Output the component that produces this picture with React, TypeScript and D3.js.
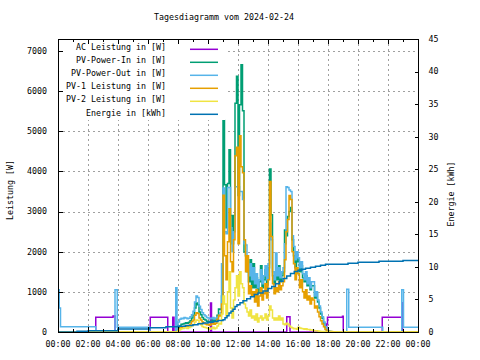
import React from "react";
import * as d3 from "d3";

// gnuplot-like day chart, 480x360
const width = 480;
const height = 360;
const plot = { left: 58, right: 418, top: 39, bottom: 332 };

const title = "Tagesdiagramm vom 2024-02-24";
const timeTickLabels = ["00:00", "02:00", "04:00", "06:00", "08:00", "10:00", "12:00", "14:00", "16:00", "18:00", "20:00", "22:00", "00:00"];
const powerTicks = [0, 1000, 2000, 3000, 4000, 5000, 6000, 7000];
const energyTicks = [0, 5, 10, 15, 20, 25, 30, 35, 40, 45];

const seriesNames = [
  "AC Leistung in [W]",
  "PV-Power-In in [W]",
  "PV-Power-Out in [W]",
  "PV-1 Leistung in [W]",
  "PV-2 Leistung in [W]",
  "Energie in [kWh]",
];
const seriesColors = ["#9400d3", "#009e73", "#56b4e9", "#e69f00", "#f0e442", "#0072b2"];

// AC Leistung (W), step points
const acSteps: [string, number][] = [
  ["00:00", 0], ["02:31", 365], ["03:40", 400], ["03:48", 0], ["06:09", 365], ["07:19", 0],
  ["07:39", 365], ["07:44", 0], ["10:10", 720], ["10:14", 0],
  ["15:15", 380], ["15:28", 0], ["17:55", 200], ["17:58", 365], ["18:58", 390],
  ["19:01", 0], ["21:37", 365], ["22:55", 730], ["22:58", 0], ["24:00", 0],
];

// PV-Power-Out outside the daytime block
const powerOutNight: [string, number][] = [
  ["00:00", 1050], ["00:05", 600], ["00:10", 130], ["02:31", 0], ["03:48", 1050], ["03:57", 120],
  ["06:08", 0], ["07:51", 1100], ["07:56", 0],
];
const powerOutEvening: [string, number][] = [
  ["19:15", 1065], ["19:23", 117], ["21:39", 0], ["22:55", 1050], ["23:02", 117], ["24:00", 117],
];

// daytime samples, every 6 minutes from 08:00 to 18:30
const dayStart = "08:00";
const dayStepMin = 6;

const dayPowerIn = [
  80, 150, 190, 200, 210, 230, 220, 240, 280, 350,
  420, 600, 720, 680, 500, 430, 360, 320, 300, 270,
  260, 240, 270, 300, 260, 300, 420, 570, 560, 900,
  5270, 3670, 2600, 3700, 4540, 2900, 2200, 2900, 5700, 6370,
  3400, 5660, 6660, 5510, 2000, 1900, 1500, 1250, 1800, 1100,
  1700, 1100, 1350, 1000, 1250, 1650, 1100, 1300, 1550, 1200,
  1600, 4060, 2920, 1400, 1200, 1500, 1300, 1650, 1250, 1400,
  1500, 2540, 2400, 2880, 3000, 3100, 2300, 1900, 1600, 1850,
  1750, 1500, 1650, 1350, 1250, 1400, 1150, 1250, 1050, 1150,
  1150, 850, 950, 750, 600, 450, 340, 220, 110, 40,
  20, 10, 0, 0, 0, 0,
];
const dayPowerOut = [
  250, 320, 340, 330, 360, 350, 330, 340, 380, 430,
  520, 750, 900, 860, 640, 560, 480, 430, 400, 360,
  350, 330, 340, 360, 330, 350, 370, 420, 480, 1700,
  3590, 2500, 2450, 3600, 3600, 2600, 2000, 2500, 3620, 3620,
  3620, 3500, 3500, 3300, 2200, 2170, 1670, 1400, 1700, 1300,
  1600, 1200, 1450, 1100, 1300, 1550, 1200, 1400, 1650, 1300,
  1700, 2710, 2300, 1500, 1300, 1970, 1400, 1600, 1350, 1500,
  1600, 2200, 3620, 3600, 3540, 3500, 2400, 2130, 1800, 2000,
  1850, 1600, 1750, 1450, 1300, 1500, 1200, 1350, 1100, 1250,
  1250, 900, 1000, 800, 650, 500, 380, 250, 130, 50,
  20, 0, 0, 0, 0, 0,
];
const dayPv1 = [
  40, 90, 120, 130, 140, 150, 140, 160, 200, 260,
  300, 420, 480, 460, 350, 300, 250, 220, 200, 180,
  190, 170, 200, 230, 190, 220, 320, 420, 400, 700,
  3410, 1900, 1300, 2250, 3070, 1750, 1500, 2300, 4390, 4600,
  2200, 4890, 4120, 3970, 2300, 1500, 1900, 950, 1150, 900,
  1000, 750, 1050, 650, 900, 1100, 800, 950, 1200, 850,
  1300, 3750, 2380, 1200, 950, 1100, 1000, 1250, 1050, 1150,
  1250, 1800, 2500, 2800, 3400, 3300, 2000, 1700, 1300, 1600,
  1450, 1100, 1300, 1000, 850, 1050, 800, 900, 700, 850,
  800, 600, 650, 500, 380, 280, 200, 130, 60, 20,
  15, 12, 10, 8, 5, 0,
];
const dayPv2 = [
  30, 60, 80, 90, 100, 100, 90, 110, 130, 160,
  180, 250, 300, 290, 220, 180, 140, 120, 110, 100,
  90, 70, 100, 120, 80, 100, 150, 220, 200, 450,
  900, 700, 400, 1000, 1500, 600, 350, 800, 1100, 1400,
  900, 1500, 1200, 1100, 700, 600, 500, 400, 550, 350,
  400, 300, 450, 250, 350, 400, 300, 350, 450, 300,
  400, 650, 550, 350, 300, 350, 300, 400, 300, 350,
  200, 180, 220, 200, 150, 120, 100, 80, 90, 70,
  120, 100, 90, 80, 70, 80, 60, 60, 50, 50,
  40, 30, 30, 25, 20, 15, 10, 5, 0, 0,
  0, 0, 0, 0, 0, 0,
];

// Energie (kWh), step points
const energySteps: [string, number][] = [
  ["00:00", 0], ["01:16", 0.1], ["02:01", 0.2], ["03:59", 0.45], ["06:05", 0.65], ["07:12", 0.8],
  ["08:00", 0.9], ["08:30", 1.0], ["09:00", 1.1], ["09:20", 1.25], ["09:40", 1.4], ["10:00", 1.5],
  ["10:20", 1.6], ["10:40", 1.75], ["11:00", 1.9], ["11:08", 2.2], ["11:16", 2.5], ["11:24", 2.9],
  ["11:32", 3.2], ["11:40", 3.5], ["11:48", 3.9], ["11:56", 4.2], ["12:08", 4.5], ["12:20", 4.8],
  ["12:35", 5.1], ["12:50", 5.4], ["13:05", 5.75], ["13:20", 6.0], ["13:40", 6.3], ["14:00", 6.7],
  ["14:15", 7.0], ["14:30", 7.4], ["14:45", 7.8], ["15:00", 8.2], ["15:15", 8.6], ["15:30", 9.0],
  ["15:45", 9.3], ["16:00", 9.5], ["16:15", 9.65], ["16:30", 9.8], ["16:50", 9.95], ["17:10", 10.1],
  ["17:30", 10.25], ["17:50", 10.4], ["19:20", 10.55], ["20:00", 10.7], ["21:24", 10.85],
  ["23:00", 11.0], ["24:00", 11.0],
];

const toMin = (s: string) => {
  const [h, m] = s.split(":").map(Number);
  return h * 60 + m;
};

const dayPoints = (vals: number[]): [number, number][] =>
  vals.map((v, i) => [toMin(dayStart) + i * dayStepMin, v]);

const stepPoints = (steps: [string, number][]): [number, number][] =>
  steps.map(([t, v]) => [toMin(t), v]);

const FONT = "'DejaVu Sans Mono', monospace";

export default function App() {
  const x = d3.scaleLinear().domain([0, 1440]).range([plot.left, plot.right]);
  const yL = d3.scaleLinear().domain([0, 7300]).range([plot.bottom, plot.top]);
  const yR = d3.scaleLinear().domain([0, 45]).range([plot.bottom, plot.top]);

  const lineL = d3
    .line<[number, number]>()
    .x((d) => x(d[0]))
    .y((d) => yL(d[1]))
    .curve(d3.curveStepAfter);
  const lineR = d3
    .line<[number, number]>()
    .x((d) => x(d[0]))
    .y((d) => yR(d[1]))
    .curve(d3.curveStepAfter);

  const series = [
    lineL(stepPoints(acSteps)),
    lineL([[0, 0], ...dayPoints(dayPowerIn), [1440, 0]]),
    lineL([...stepPoints(powerOutNight), ...dayPoints(dayPowerOut), ...stepPoints(powerOutEvening)]),
    lineL([[0, 0], ...dayPoints(dayPv1), [1440, 0]]),
    lineL([[0, 0], ...dayPoints(dayPv2), [1440, 0]]),
    lineR(stepPoints(energySteps)),
  ];

  const hourTicks = d3.range(0, 1441, 60);
  const fs = 8.3;

  return (
    <svg width={width} height={height} style={{ position: "absolute", left: 0, top: 0, background: "#fff" }}>
      <rect width={width} height={height} fill="#fff" />
      <text x={224} y={20} fontFamily={FONT} fontSize={fs} textAnchor="middle">
        {title}
      </text>

      {/* grid */}
      <g stroke="#a0a0a0" strokeDasharray="2,3" strokeWidth={1}>
        {powerTicks.slice(1).map((t) => (
          <line key={"gy" + t} x1={plot.left} x2={plot.right} y1={Math.round(yL(t)) + 0.5} y2={Math.round(yL(t)) + 0.5} />
        ))}
        {timeTickLabels.slice(1, -1).map((_, i) => {
          const xx = Math.round(x((i + 1) * 120)) + 0.5;
          return <line key={"gx" + i} x1={xx} x2={xx} y1={plot.top} y2={plot.bottom} />;
        })}
      </g>

      {/* data */}
      <g fill="none" strokeWidth={1.5}>
        {series.map((d, i) => (
          <path key={i} d={d || ""} stroke={seriesColors[i]} />
        ))}
      </g>

      {/* opaque key */}
      <rect x={plot.left + 1} y={plot.top + 1} width={166} height={80} fill="#fff" />
      {seriesNames.map((n, i) => (
        <g key={n}>
          <text x={166} y={50 + i * 13.1} fontFamily={FONT} fontSize={fs} textAnchor="end">
            {n}
          </text>
          <line x1={190} x2={218} y1={49.3 + i * 13} y2={49.3 + i * 13} stroke={seriesColors[i]} strokeWidth={1.5} />
        </g>
      ))}

      {/* border and ticks */}
      <rect x={plot.left + 0.5} y={plot.top + 0.5} width={plot.right - plot.left} height={plot.bottom - plot.top} fill="none" stroke="#000" />
      <g stroke="#000">
        {powerTicks.map((t) => (
          <line key={"lt" + t} x1={plot.left} x2={plot.left + 5} y1={Math.round(yL(t)) + 0.5} y2={Math.round(yL(t)) + 0.5} />
        ))}
        {energyTicks.map((t) => (
          <line key={"rt" + t} x1={plot.right - 3} x2={plot.right} y1={Math.round(yR(t)) + 0.5} y2={Math.round(yR(t)) + 0.5} />
        ))}
        {hourTicks.map((m) => {
          const xx = Math.round(x(m)) + 0.5;
          const len = m % 120 === 0 ? 5 : 3;
          return (
            <g key={"ht" + m}>
              <line x1={xx} x2={xx} y1={plot.bottom} y2={plot.bottom - len} />
              <line x1={xx} x2={xx} y1={plot.top} y2={plot.top + len} />
            </g>
          );
        })}
      </g>

      {/* tick labels */}
      <g fontFamily={FONT} fontSize={fs}>
        {powerTicks.map((t) => (
          <text key={"ll" + t} x={47} y={yL(t)} dy="0.35em" textAnchor="end">
            {t}
          </text>
        ))}
        {energyTicks.map((t) => (
          <text key={"rl" + t} x={428.5} y={yR(t)} dy="0.35em">
            {t}
          </text>
        ))}
        {timeTickLabels.map((l, i) => (
          <text key={"xl" + i} x={x(i * 120)} y={344} dy="0.35em" textAnchor="middle">
            {l}
          </text>
        ))}
      </g>

      <text transform="translate(10,190) rotate(-90)" fontFamily={FONT} fontSize={fs} textAnchor="middle" dy="0.35em">
        Leistung [W]
      </text>
      <text transform="translate(451,194) rotate(-90)" fontFamily={FONT} fontSize={fs} textAnchor="middle" dy="0.35em">
        Energie [kWh]
      </text>
    </svg>
  );
}
